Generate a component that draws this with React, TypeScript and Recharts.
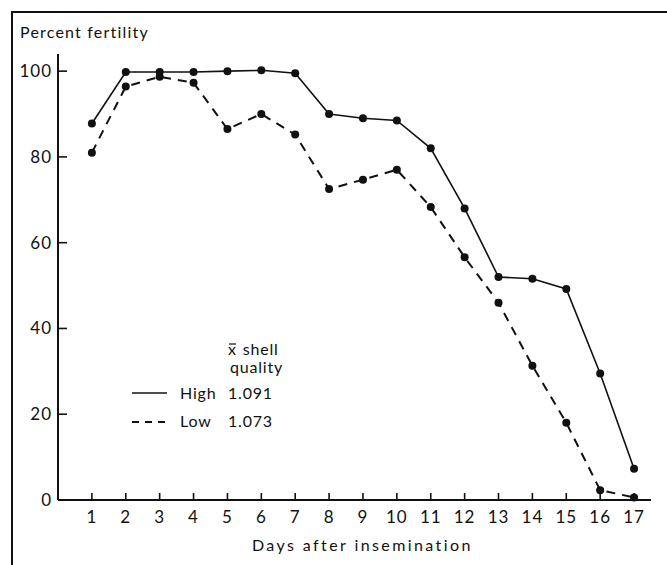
import React from 'react';
import { LineChart, Line, XAxis, YAxis } from 'recharts';

const days = [1, 2, 3, 4, 5, 6, 7, 8, 9, 10, 11, 12, 13, 14, 15, 16, 17];
const highQuality = [87.8, 99.8, 99.8, 99.8, 100, 100.2, 99.5, 90, 89, 88.5, 82, 68, 52, 51.6, 49.2, 29.5, 7.3];
const lowQuality = [81, 96.4, 98.7, 97.3, 86.5, 90, 85.2, 72.5, 74.7, 77, 68.3, 56.6, 46, 31.3, 18, 2.3, 0.6];
const yTicks = [0, 20, 40, 60, 80, 100];

const data = days.map((d, i) => ({ day: d, high: highQuality[i], low: lowQuality[i] }));

const FONT = 'Lato, "DejaVu Sans", sans-serif';
const INK = '#111';

const XTick = (props: any) => {
  const { x, y, payload } = props;
  return (
    <g>
      <line x1={x} y1={y} x2={x} y2={y - 7} stroke={INK} strokeWidth={1.6} />
      <text x={x} y={y + 23} textAnchor="middle" fontSize={17} fontFamily={FONT} fill={INK} letterSpacing={1}>
        {payload.value}
      </text>
    </g>
  );
};

const YTick = (props: any) => {
  const { x, y, payload } = props;
  return (
    <g>
      <line x1={x} y1={y} x2={x + 9} y2={y} stroke={INK} strokeWidth={1.6} />
      <text x={x - 6} y={y + 6} textAnchor="end" fontSize={17} fontFamily={FONT} fill={INK} letterSpacing={1}>
        {payload.value}
      </text>
    </g>
  );
};

const LegendBox = () => (
  <svg width={200} height={100} style={{ overflow: 'visible' }}>
    <line x1={99} y1={9} x2={106} y2={9} stroke={INK} strokeWidth={1.2} />
    <text x={98} y={20} fontSize={16} fontFamily={FONT} fill={INK} letterSpacing={0.8}>
      x<tspan dx={6}>shell</tspan>
    </text>
    <text x={100} y={38} fontSize={16} fontFamily={FONT} fill={INK} letterSpacing={0.8}>quality</text>
    <line x1={2} y1={58} x2={37} y2={58} stroke={INK} strokeWidth={1.5} />
    <text x={50} y={64} fontSize={16} fontFamily={FONT} fill={INK} letterSpacing={0.8}>High</text>
    <text x={98} y={64} fontSize={16} fontFamily={FONT} fill={INK} letterSpacing={0.8}>1.091</text>
    <line x1={2} y1={87} x2={37} y2={87} stroke={INK} strokeWidth={1.8} strokeDasharray="7 6" />
    <text x={50} y={92} fontSize={16} fontFamily={FONT} fill={INK} letterSpacing={0.8}>Low</text>
    <text x={98} y={92} fontSize={16} fontFamily={FONT} fill={INK} letterSpacing={0.8}>1.073</text>
  </svg>
);

export default function App() {
  return (
    <div style={{ position: 'absolute', left: 0, top: 0, width: 667, height: 565, background: '#fff', overflow: 'hidden' }}>
      <div
        style={{
          position: 'absolute', left: 11, top: 11, width: 700, height: 600,
          borderTop: `2px solid ${INK}`, borderLeft: `2px solid ${INK}`,
        }}
      />
      <div style={{ position: 'absolute', left: 20, top: 22, fontSize: 16, fontFamily: FONT, color: INK, letterSpacing: 1.2 }}>
        Percent fertility
      </div>
      <div style={{ position: 'absolute', left: 252, top: 535, fontSize: 16, fontFamily: FONT, color: INK, letterSpacing: 2.4 }}>
        Days after insemination
      </div>
      <div style={{ position: 'absolute', left: 0, top: 0 }}>
        <LineChart width={667} height={565} data={data} margin={{ top: 54, right: 16, bottom: 0, left: 0 }}>
          <XAxis
            dataKey="day"
            type="number"
            domain={[0, 17.5]}
            ticks={days}
            interval={0}
            tickSize={0}
            tickMargin={0}
            tick={<XTick />}
            axisLine={{ stroke: INK, strokeWidth: 2 }}
            tickLine={false}
            height={65}
          />
          <YAxis
            type="number"
            domain={[0, 104]}
            ticks={yTicks}
            interval={0}
            tickSize={0}
            tickMargin={0}
            tick={<YTick />}
            axisLine={{ stroke: INK, strokeWidth: 2 }}
            tickLine={false}
            width={58}
          />
          <Line
            dataKey="high"
            stroke={INK}
            strokeWidth={1.6}
            dot={{ r: 4, fill: INK, stroke: INK, strokeWidth: 0 }}
            isAnimationActive={false}
            type="linear"
          />
          <Line
            dataKey="low"
            stroke={INK}
            strokeWidth={2}
            strokeDasharray="9 7"
            dot={{ r: 4, fill: INK, stroke: INK, strokeWidth: 0, strokeDasharray: '0' }}
            isAnimationActive={false}
            type="linear"
          />
        </LineChart>
      </div>
      <div style={{ position: 'absolute', left: 130, top: 335 }}>
        <LegendBox />
      </div>
    </div>
  );
}
